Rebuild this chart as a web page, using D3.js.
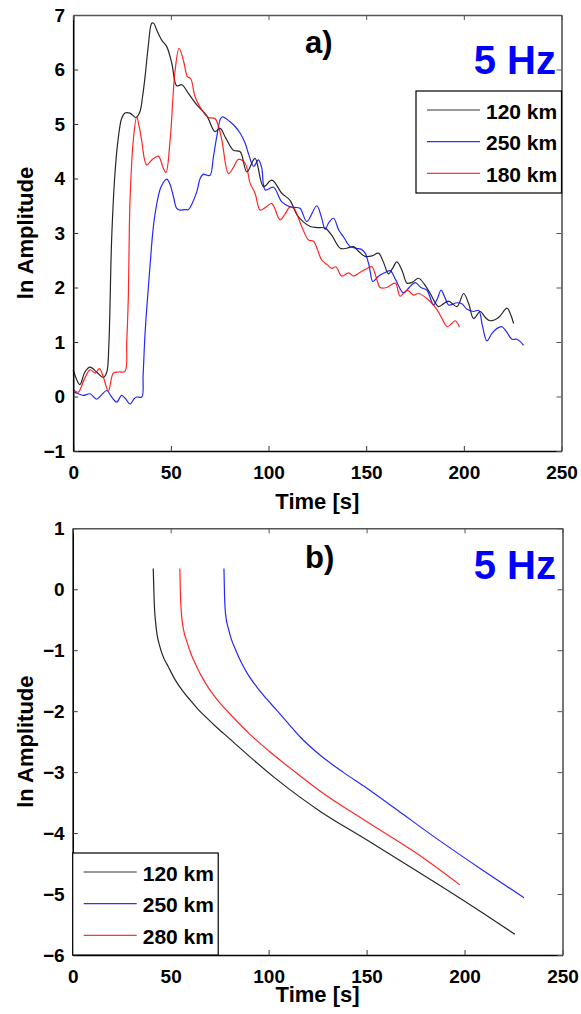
<!DOCTYPE html>
<html>
<head>
<meta charset="utf-8">
<script src="https://cdn.jsdelivr.net/npm/d3@7"></script>
<style>
  body { margin: 0; background: #fff; }
  text { font-family: "Liberation Sans", Arial, sans-serif; font-weight: bold; }
</style>
</head>
<body>
<script>
// panel a) ln amplitude vs time, [time, value]
var a120 = [[0,0.49],[3.4,0.22],[6,0.45],[8.6,0.54],[12,0.45],[15.4,0.35],[17.2,0.45],[18.2,0.9],
  [19.7,2.9],[21.4,4.1],[23.1,4.75],[24.8,5.1],[26.5,5.2],[29,5.2],[32.2,5.12],[34.2,5.23],
  [35.5,5.5],[36.8,5.87],[38.5,6.45],[40.2,6.85],[41.2,6.85],[42.8,6.72],[45.3,6.54],[47.9,6.42],
  [50.5,6.11],[53,5.7],[55.6,5.72],[59,5.56],[63.3,5.35],[68.4,5.15],[72.6,4.86],[75.2,4.92],
  [78,4.75],[82,4.52],[85.5,4.49],[88.9,4.12],[93.1,4.37],[97.4,3.85],[101.7,3.97],[106.8,3.73],
  [111,3.6],[114.6,3.33],[118,3.2],[121.3,3.12],[125,3.1],[129,3.09],[132.5,2.95],[136.7,2.72],
  [140,2.72],[143.5,2.75],[146.5,2.65],[149.5,2.57],[153,2.58],[156.3,2.63],[159,2.45],[161.4,2.25],
  [163.5,2.35],[165.7,2.47],[168.5,2.3],[170.9,2.08],[173.8,2.1],[176.8,2.17],[180,2.05],[182.8,1.89],
  [187,1.65],[189.5,1.7],[192.2,1.75],[196.5,1.65],[199.9,1.89],[202.5,1.7],[205,1.43],[208.4,1.56],
  [211,1.45],[213.5,1.39],[217.8,1.45],[222.1,1.62],[224,1.5],[225.5,1.34]];

var a250 = [[0,0.09],[2.6,0.05],[5.2,0.02],[8.6,0.05],[12,-0.05],[14.5,0.03],[17.2,0.11],[19.5,0],
  [22.3,-0.1],[24.8,0.02],[27,-0.05],[29.1,-0.14],[31,-0.05],[32.5,-0.01],[35.1,-0.01],[35.8,0.4],
  [36.8,1.16],[39.3,2.38],[41,3.1],[42.8,3.54],[45,3.85],[47.9,3.99],[49.5,3.9],[51.3,3.67],
  [53,3.45],[54.7,3.42],[57,3.43],[59,3.43],[61,3.55],[63.3,3.76],[65,4],[66.7,4.08],[68.5,4.06],
  [70.1,4.06],[71.8,4.4],[73.5,4.77],[75.5,5.1],[76.6,5.13],[80.3,5.04],[83,4.95],[85.5,4.83],
  [88,4.65],[89.7,4.46],[92.4,4.22],[94.8,4.34],[96.5,4.2],[98.3,3.79],[102.5,3.84],[106.8,3.57],
  [111,3.48],[113.5,3.47],[116.2,3.45],[119.6,3.21],[124.7,3.5],[127,3.3],[129,3.07],[131,3.2],
  [133.3,3.27],[136,3.05],[138.4,2.93],[141.8,2.75],[145,2.72],[147.5,2.7],[149.5,2.63],[151.5,2.4],
  [153.4,2.11],[155.5,2.18],[157.2,2.23],[160,2.28],[162.3,2.31],[165,2.15],[169.1,1.9],[172,2],
  [175.1,2.09],[178,2],[181.1,1.95],[184.5,1.68],[186.5,1.8],[188.3,1.95],[190.5,1.8],[192.2,1.68],
  [196.5,1.72],[199,1.7],[201.6,1.6],[205,1.56],[207.6,1.58],[209.5,1.3],[211.8,1.02],[214.4,1.16],
  [217,1.25],[219.5,1.28],[222,1.18],[224.6,1.05],[227.2,1.05],[230.6,0.94]];

var a180 = [[0,0.12],[2.6,0.08],[5.5,0.3],[8.6,0.49],[11.2,0.43],[13.4,0.51],[15.5,0.35],[18,0.1],
  [20.6,0.43],[23.5,0.45],[26.5,0.46],[27.4,1],[28.2,1.8],[29.1,3.6],[30.8,4.71],[32.5,5.13],
  [33.8,4.95],[35,4.71],[37.6,4.25],[40.5,4.35],[43.6,4.41],[46,4.2],[47.5,4.11],[49.6,4.7],
  [52.2,5.99],[54.2,6.39],[56.4,6.17],[58.5,5.87],[60.2,5.83],[62.4,5.5],[65.8,5.26],[69.2,5.12],
  [72.6,5.1],[74.4,4.95],[76.1,4.71],[79.5,4.09],[82,4.2],[84.6,4.35],[88,4.28],[90.6,3.91],
  [93.1,3.73],[95.7,3.42],[98.5,3.47],[101.7,3.54],[105.9,3.24],[108.5,3.35],[111,3.48],[113,3.45],
  [117,3.12],[120.5,2.87],[123,2.85],[127.3,2.5],[130,2.42],[132.4,2.35],[134.5,2.38],[137.5,2.21],
  [141,2.27],[143.5,2.21],[147,2.28],[150.4,2.35],[152.9,2.38],[155,2.2],[157.2,2],[160.5,2],
  [164.9,2.08],[167.4,1.84],[170.9,1.95],[174.3,1.86],[176.8,1.89],[182,1.77],[186.3,1.59],
  [189,1.42],[191.4,1.28],[193.5,1.33],[195.6,1.39],[197.8,1.27]];

// panel b) modelled decay curves
var b120 = [[41.1,0.34],[41.6,-0.2],[42.5,-0.6],[44.5,-0.94],[46.5,-1.13],[48.8,-1.27],[52,-1.47],
  [56.4,-1.68],[60,-1.82],[64,-1.97],[68.4,-2.11],[74,-2.28],[80,-2.45],[90.5,-2.75],[103,-3.09],
  [116,-3.41],[126.2,-3.64],[150,-4.11],[167,-4.45],[184,-4.79],[205,-5.22],[225.7,-5.66]];
var b250 = [[77.2,0.34],[77.5,-0.1],[78,-0.4],[79.5,-0.65],[81.1,-0.83],[83.5,-1.02],[86.2,-1.21],
  [89.5,-1.4],[93.9,-1.6],[99,-1.8],[104,-1.98],[110,-2.2],[116,-2.42],[126.2,-2.72],[138,-3.0],
  [150,-3.26],[166,-3.63],[184,-4.05],[207,-4.56],[230.3,-5.06]];
var b280 = [[54.7,0.34],[55,-0.1],[55.5,-0.4],[56.5,-0.65],[58.2,-0.85],[60.5,-1.07],[63.3,-1.27],
  [66.5,-1.47],[70,-1.65],[75,-1.86],[81.9,-2.1],[90.5,-2.38],[100,-2.65],[116,-3.06],[126.2,-3.31],
  [150,-3.81],[175,-4.32],[197.6,-4.85]];

var xTicks = [0, 50, 100, 150, 200, 250];
var yTicksA = [-1, 0, 1, 2, 3, 4, 5, 6, 7];
var yTicksB = [-6, -5, -4, -3, -2, -1, 0, 1];
var labelsA = ["120 km", "250 km", "180 km"];
var labelsB = ["120 km", "250 km", "280 km"];
var colors = ["#000", "#0000ff", "#ff0000"];

var svg = d3.select("body").append("svg")
    .attr("width", 581)
    .attr("height", 1014);

function fmt(d) { return d < 0 ? "\u2212" + Math.abs(d) : d; }

function panel(x, y, yTicks, series, labels, tag, legendPos) {
  var g = svg.append("g");
  var x0 = x.range()[0], x1 = x.range()[1], y0 = y.range()[0], y1 = y.range()[1];

  var line = d3.line()
      .x(function(d) { return x(d[0]); })
      .y(function(d) { return y(d[1]); })
      .curve(tag.curve);

  series.forEach(function(s, i) {
    g.append("path")
      .attr("d", line(s))
      .attr("fill", "none")
      .attr("stroke", colors[i])
      .attr("stroke-width", 1.2)
      .attr("stroke-opacity", 0.85);
  });

  // axes, ticks pointing inward like matlab
  var bottom = g.append("g").attr("transform", "translate(0," + y0 + ")")
      .call(d3.axisBottom(x).tickValues(xTicks).tickSizeInner(-5).tickSizeOuter(0).tickPadding(15).tickFormat(fmt));
  var left = g.append("g").attr("transform", "translate(" + x0 + ",0)")
      .call(d3.axisLeft(y).tickValues(yTicks).tickSizeInner(-5).tickSizeOuter(0).tickPadding(8).tickFormat(fmt));
  var top = g.append("g").attr("transform", "translate(0," + y1 + ")")
      .call(d3.axisTop(x).tickValues(xTicks).tickSizeInner(-5).tickSizeOuter(0).tickFormat(""));
  var right = g.append("g").attr("transform", "translate(" + x1 + ",0)")
      .call(d3.axisRight(y).tickValues(yTicks).tickSizeInner(-5).tickSizeOuter(0).tickFormat(""));

  [bottom, left].forEach(function(a) {
    a.selectAll("path").attr("stroke", "#000").attr("stroke-width", 1.6);
    a.selectAll("line").attr("stroke", "#333");
    a.selectAll("text").attr("font-size", 19).attr("fill", "#000")
      .style("font-family", "'Liberation Sans', Arial, sans-serif").style("font-weight", "bold");
  });
  [top, right].forEach(function(a) {
    a.selectAll("path").attr("stroke", "#555").attr("stroke-width", 1.6);
    a.selectAll("line").attr("stroke", "#555");
  });

  g.append("text")
    .attr("x", (x0 + x1) / 2)
    .attr("y", y0 + tag.titleDy)
    .attr("text-anchor", "middle")
    .attr("font-size", 22)
    .text("Time [s]");

  g.append("text")
    .attr("transform", "translate(33," + ((y0 + y1) / 2) + ") rotate(-90)")
    .attr("text-anchor", "middle")
    .attr("font-size", 22)
    .text("ln Amplitude");

  g.append("text")
    .attr("x", 305)
    .attr("y", y1 + tag.dy)
    .attr("font-size", 31)
    .text(tag.text);

  g.append("text")
    .attr("x", 556)
    .attr("y", y1 + tag.hzDy)
    .attr("text-anchor", "end")
    .attr("font-size", 40)
    .attr("fill", "#0000ff")
    .text("5 Hz");

  // legend
  var lg = g.append("g").attr("transform", "translate(" + legendPos[0] + "," + legendPos[1] + ")");
  lg.append("rect")
    .attr("width", 145.5)
    .attr("height", 102)
    .attr("fill", "#fff")
    .attr("stroke", "#000")
    .attr("stroke-width", 1.2);
  labels.forEach(function(l, i) {
    var ly = 19 + i * 31.7;
    lg.append("line")
      .attr("x1", 11).attr("x2", 64)
      .attr("y1", ly).attr("y2", ly)
      .attr("stroke", colors[i])
      .attr("stroke-width", 1.2)
      .attr("stroke-opacity", 0.8);
    lg.append("text")
      .attr("x", 70)
      .attr("y", ly + 8.5)
      .attr("font-size", 21)
      .text(l);
  });
}

var xA = d3.scaleLinear().domain([0, 250]).range([73.2, 561.5]);
var yA = d3.scaleLinear().domain([-1, 7]).range([451, 15]);
panel(xA, yA, yTicksA, [a120, a250, a180], labelsA,
  {text: "a)", dy: 38, hzDy: 59, titleDy: 58, curve: d3.curveCatmullRom.alpha(0.5)}, [416, 91]);

var xB = d3.scaleLinear().domain([0, 250]).range([72.7, 562.5]);
var yB = d3.scaleLinear().domain([-6, 1]).range([955, 528.3]);
panel(xB, yB, yTicksB, [b120, b250, b280], labelsB,
  {text: "b)", dy: 40, hzDy: 51, titleDy: 47, curve: d3.curveMonotoneX}, [72.7, 853]);
</script>
</body>
</html>
